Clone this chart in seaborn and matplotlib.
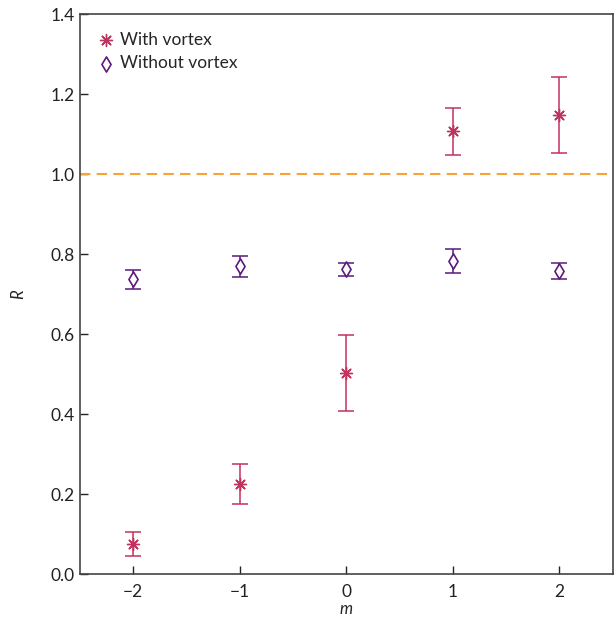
import numpy as np
import pandas as pd
import matplotlib
matplotlib.use("Agg")
import matplotlib.pyplot as plt
import seaborn as sns

m = [-2, -1, 0, 1, 2]
r_with = [0.075, 0.225, 0.503, 1.107, 1.148]
err_with = [0.030, 0.050, 0.094, 0.058, 0.095]
r_without = [0.737, 0.770, 0.762, 0.783, 0.757]
err_without = [0.024, 0.026, 0.017, 0.030, 0.020]

c_with = "#c2325e"
c_without = "#5b1a7c"
c_ref = "#f7a335"

sns.set_style("ticks")
plt.rcParams['font.family'] = ['Lato', 'DejaVu Sans']

fig = plt.figure(figsize=(6.14, 6.2), dpi=100)
ax = fig.add_axes([0.130, 0.074, 0.868, 0.903])

ax.axhline(1.0, color=c_ref, ls=(0, (5, 3)), lw=1.5, zorder=1)

ax.errorbar(m, r_with, yerr=err_with, fmt="none", ecolor=c_with, elinewidth=1.1, capsize=6, capthick=1.1, zorder=2)
ax.errorbar(m, r_without, yerr=err_without, fmt="none", ecolor=c_without, elinewidth=1.1, capsize=6, capthick=1.1, zorder=2)

df = pd.DataFrame({"m": m * 2, "R": r_with + r_without,
                   "series": ["With vortex"] * 5 + ["Without vortex"] * 5})
sns.scatterplot(data=df[df.series == "With vortex"], x="m", y="R", marker=(8, 2, 0), s=75,
                color=c_with, linewidth=1.0, edgecolor=c_with, ax=ax, label="With vortex", zorder=3)
sns.scatterplot(data=df[df.series == "Without vortex"], x="m", y="R", marker="d", s=60,
                facecolor="white", edgecolor=c_without, linewidth=1.2, ax=ax, label="Without vortex", zorder=3)

ax.set_xlim(-2.5, 2.5)
ax.set_ylim(0, 1.4)
ax.set_xticks(m)
ax.set_xticklabels(["\u22122", "\u22121", "0", "1", "2"])
ax.set_yticks(np.arange(0, 1.41, 0.2))
ax.set_yticklabels([f"{v:.1f}" for v in np.arange(0, 1.41, 0.2)])
ax.tick_params(direction="in", length=6, labelsize=12.5, colors="#222222", width=1)
ax.tick_params(axis="x", pad=7)
for s in ax.spines.values():
    s.set_color("#444444")
    s.set_linewidth(1.2)
ax.set_xlabel("m", fontstyle="italic", fontsize=12, labelpad=1)
ax.set_ylabel("R", fontstyle="italic", fontsize=12, labelpad=18)

leg = ax.legend(loc="upper left", frameon=False, fontsize=12.5, handletextpad=0.3,
                borderaxespad=0.6, handlelength=1.0, labelspacing=0.45)

fig.savefig("out.png", dpi=100)
